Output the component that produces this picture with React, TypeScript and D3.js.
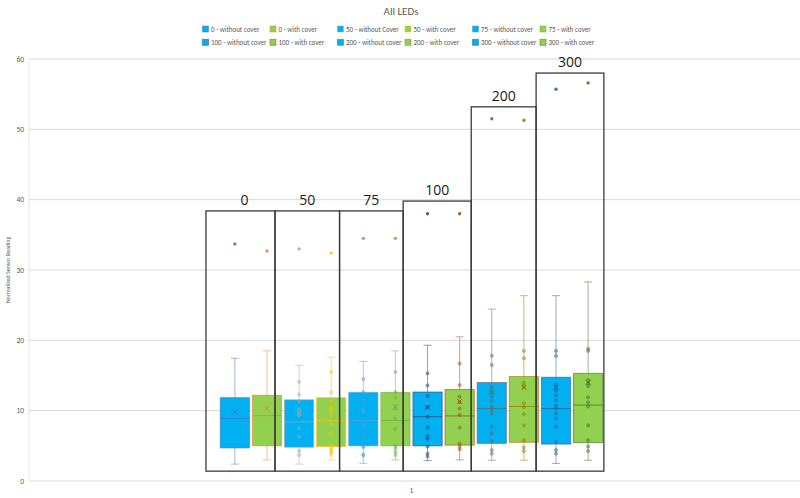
import React, { useRef, useEffect } from 'react';
import * as d3 from 'd3';

// one category on the x axis, twelve box series inside it
const categories = ['1'];

const seriesLabels = [
  '0 - without cover', '0 - with cover',
  '50 - without Cover', '50 - with cover',
  '75 - without cover', '75 - with cover',
  '100 - without cover', '100 - with cover',
  '200 - without cover', '200 - with cover',
  '300 - without cover', '300 - with cover',
];

const whiskerLow = [2.4, 3.0, 2.4, 3.0, 2.5, 3.0, 2.9, 3.0, 2.95, 2.95, 2.5, 2.95];
const q1 = [4.7, 5.0, 4.8, 4.9, 5.0, 5.0, 5.0, 5.1, 5.35, 5.5, 5.25, 5.45];
const medians = [8.9, 9.3, 8.4, 8.6, 8.6, 8.6, 9.15, 9.25, 10.3, 10.6, 10.3, 10.8];
const q3 = [11.85, 12.2, 11.55, 11.85, 12.6, 12.6, 12.65, 13.0, 14.0, 14.85, 14.75, 15.3];
const whiskerHigh = [17.45, 18.5, 16.45, 17.6, 17.0, 18.5, 19.3, 20.5, 24.45, 26.35, 26.35, 28.3];
const means = [9.8, 10.3, 9.6, 10.2, 10.0, 10.5, 10.5, 11.3, 12.6, 13.3, 13.3, 14.0];
const outliers = [33.7, 32.7, 33.0, 32.4, 34.5, 34.5, 38.0, 38.0, 51.5, 51.3, 55.7, 56.6];

const innerPoints: number[][] = [
  [],
  [],
  [14.1, 12.3, 11.3, 10.2, 9.7, 9.3, 7.5, 6.3, 4.3, 3.7],
  [15.5, 12.6, 11.3, 10.4, 10.1, 9.4, 8.1, 6.7, 5.1, 4.7, 4.4, 4.1, 3.8],
  [14.5, 12.6, 11.5, 10.1, 9.8, 8.0, 7.6, 6.5, 5.0, 4.8, 3.8, 3.6],
  [15.5, 12.6, 11.85, 10.7, 10.3, 8.9, 7.4, 5.0, 4.6, 4.1, 3.7],
  [15.3, 13.6, 12.1, 10.5, 9.15, 7.6, 6.4, 6.0, 4.9, 3.9, 3.5],
  [16.7, 13.65, 12.0, 11.2, 10.3, 9.4, 7.6, 5.3, 4.9, 4.5],
  [17.8, 16.5, 13.3, 12.65, 12.0, 11.4, 10.6, 10.2, 9.6, 7.7, 6.8, 5.6, 4.4, 3.9],
  [18.5, 17.45, 14.0, 13.6, 13.3, 11.05, 10.5, 9.5, 7.9, 5.8, 4.75, 4.25],
  [18.5, 17.8, 13.7, 13.2, 12.85, 12.2, 11.5, 10.75, 10.3, 9.6, 8.9, 7.7, 5.6, 4.4, 3.9],
  [18.8, 18.5, 14.35, 13.9, 13.5, 11.9, 11.2, 10.6, 7.9, 5.8, 4.9, 4.25],
];

const yTicks = [0, 10, 20, 30, 40, 50, 60];

// framed groups drawn over the boxes; edges are in series steps from the first box centre
const groupLabels = ['0', '50', '75', '100', '200', '300'];
const groupTops = [38.4, 38.4, 38.4, 39.8, 53.2, 58.0];
const groupEdges = [-0.9, 1.25, 3.26, 5.24, 7.36, 9.38, 11.49];
const groupBottom = 1.4;

const fillColors = ['#00B0F0', '#92D050'];
const lineColors = [
  '#4472C4', '#ED7D31', '#A5A5A5', '#FFC000', '#5B9BD5', '#70AD47',
  '#264478', '#9E480E', '#636363', '#997300', '#255E91', '#43682B',
];

const FONT = 'Calibri, Carlito, Lato, "Liberation Sans", sans-serif';
const LABEL_FONT = '"Open Sans", "Liberation Sans", sans-serif';

const App: React.FC = () => {
  const ref = useRef<SVGSVGElement>(null);

  useEffect(() => {
    const width = 800;
    const height = 498;
    const svg = d3.select(ref.current);
    svg.selectAll('*').remove();
    svg.attr('width', width).attr('height', height);

    svg.append('rect').attr('width', width).attr('height', height).attr('fill', '#fff');

    const left = 29;
    const right = 794;
    const top = 59;
    const bottom = 481;

    const y = d3.scaleLinear().domain([0, 60]).range([bottom, top]);
    const xCat = d3.scaleBand().domain(categories).range([left, right]).paddingInner(0).paddingOuter(0.5);
    const x = d3.scaleBand()
      .domain(seriesLabels)
      .range([xCat(categories[0])!, xCat(categories[0])! + xCat.bandwidth()])
      .paddingInner(0.09)
      .paddingOuter(0);
    const bw = x.bandwidth();
    const cx = (i: number) => x(seriesLabels[i])! + bw / 2;

    // gridlines
    svg.append('g')
      .selectAll('line')
      .data(yTicks)
      .enter()
      .append('line')
      .attr('x1', left)
      .attr('x2', 800)
      .attr('y1', d => y(d))
      .attr('y2', d => y(d))
      .attr('stroke', '#D9D9D9')
      .attr('stroke-width', 1);

    svg.append('line')
      .attr('x1', left).attr('x2', left)
      .attr('y1', top).attr('y2', bottom)
      .attr('stroke', '#E6E6E6');

    svg.append('g')
      .selectAll('text')
      .data(yTicks)
      .enter()
      .append('text')
      .attr('x', left - 5)
      .attr('y', d => y(d) + 2.5)
      .attr('text-anchor', 'end')
      .attr('font-family', FONT)
      .attr('font-size', 7.5)
      .attr('fill', '#595959')
      .text(d => d);

    svg.append('text')
      .attr('transform', `translate(10, ${(top + bottom) / 2}) rotate(-90)`)
      .attr('text-anchor', 'middle')
      .attr('font-family', FONT)
      .attr('font-size', 6)
      .attr('fill', '#595959')
      .text('Normalized Sensor Reading');

    svg.append('text')
      .attr('x', xCat(categories[0])! + xCat.bandwidth() / 2)
      .attr('y', 493)
      .attr('text-anchor', 'middle')
      .attr('font-family', FONT)
      .attr('font-size', 7.5)
      .attr('fill', '#595959')
      .text(categories[0]);

    // title
    svg.append('text')
      .attr('x', 401)
      .attr('y', 15)
      .attr('text-anchor', 'middle')
      .attr('font-family', FONT)
      .attr('font-size', 11)
      .attr('fill', '#595959')
      .text('All LEDs');

    // legend: two rows of six
    const legend = svg.append('g');
    seriesLabels.forEach((label, i) => {
      const col = i % 6;
      const row = Math.floor(i / 6);
      const lx = 203 + col * 67.5;
      const ly = 29.5 + row * 13.3;
      legend.append('rect')
        .attr('x', lx - 0.5)
        .attr('y', ly - 3.5)
        .attr('width', 6)
        .attr('height', 6)
        .attr('fill', fillColors[i % 2])
        .attr('stroke', lineColors[i])
        .attr('stroke-opacity', 0.6)
        .attr('stroke-width', 0.8);
      legend.append('text')
        .attr('x', lx + 8)
        .attr('y', ly + 2.2)
        .attr('font-family', FONT)
        .attr('font-size', 7)
        .attr('fill', '#595959')
        .text(label);
    });

    const boxes = svg.append('g')
      .selectAll('g')
      .data(seriesLabels.map((_, i) => i))
      .enter()
      .append('g');

    // whiskers with caps
    boxes.append('line')
      .attr('x1', i => cx(i)).attr('x2', i => cx(i))
      .attr('y1', i => y(whiskerLow[i])).attr('y2', i => y(whiskerHigh[i]))
      .attr('stroke', i => lineColors[i]).attr('stroke-opacity', 0.5).attr('stroke-width', 1);
    boxes.append('line')
      .attr('x1', i => cx(i) - 4).attr('x2', i => cx(i) + 4)
      .attr('y1', i => y(whiskerHigh[i])).attr('y2', i => y(whiskerHigh[i]))
      .attr('stroke', i => lineColors[i]).attr('stroke-opacity', 0.5).attr('stroke-width', 1);
    boxes.append('line')
      .attr('x1', i => cx(i) - 4).attr('x2', i => cx(i) + 4)
      .attr('y1', i => y(whiskerLow[i])).attr('y2', i => y(whiskerLow[i]))
      .attr('stroke', i => lineColors[i]).attr('stroke-opacity', 0.5).attr('stroke-width', 1);

    boxes.append('rect')
      .attr('x', i => x(seriesLabels[i])!)
      .attr('width', bw)
      .attr('y', i => y(q3[i]))
      .attr('height', i => y(q1[i]) - y(q3[i]))
      .attr('fill', i => fillColors[i % 2])
      .attr('stroke', i => lineColors[i])
      .attr('stroke-opacity', 0.6)
      .attr('stroke-width', 1);

    boxes.append('line')
      .attr('x1', i => x(seriesLabels[i])!).attr('x2', i => x(seriesLabels[i])! + bw)
      .attr('y1', i => y(medians[i])).attr('y2', i => y(medians[i]))
      .attr('stroke', i => lineColors[i]).attr('stroke-opacity', 0.7).attr('stroke-width', 1);

    // inner points
    boxes.each(function (i) {
      d3.select(this)
        .selectAll('circle.inner')
        .data(innerPoints[i])
        .enter()
        .append('circle')
        .attr('class', 'inner')
        .attr('cx', cx(i))
        .attr('cy', d => y(d))
        .attr('r', 1.6)
        .attr('fill', lineColors[i])
        .attr('fill-opacity', 0.4)
        .attr('stroke', lineColors[i])
        .attr('stroke-opacity', 0.65)
        .attr('stroke-width', 0.6);
    });

    // mean markers
    const xs = 2.6;
    boxes.append('path')
      .attr('d', i => {
        const mx = cx(i);
        const my = y(means[i]);
        return `M${mx - xs},${my - xs}L${mx + xs},${my + xs}M${mx - xs},${my + xs}L${mx + xs},${my - xs}`;
      })
      .attr('stroke', i => lineColors[i])
      .attr('stroke-opacity', 0.75)
      .attr('stroke-width', 1)
      .attr('fill', 'none');

    boxes.append('circle')
      .attr('cx', i => cx(i))
      .attr('cy', i => y(outliers[i]))
      .attr('r', 1.7)
      .attr('fill', i => lineColors[i])
      .attr('fill-opacity', 0.85);

    // framed groups with their labels
    const step = x.step();
    const gx = (u: number) => cx(0) + u * step;
    const frames = svg.append('g');
    groupLabels.forEach((label, k) => {
      const x0 = gx(groupEdges[k]);
      const x1 = gx(groupEdges[k + 1]);
      frames.append('rect')
        .attr('x', x0)
        .attr('y', y(groupTops[k]))
        .attr('width', x1 - x0)
        .attr('height', y(groupBottom) - y(groupTops[k]))
        .attr('fill', 'none')
        .attr('stroke', '#3A3A3A')
        .attr('stroke-width', 1.3);
      frames.append('text')
        .attr('x', (x0 + x1) / 2 + (k === 0 ? 4 : 0))
        .attr('y', y(groupTops[k]) - 6)
        .attr('text-anchor', 'middle')
        .attr('font-family', LABEL_FONT)
        .attr('font-size', 14)
        .attr('fill', '#1a1a1a')
        .text(label);
    });
  }, []);

  return <svg ref={ref} style={{ position: 'absolute', left: 0, top: 0, display: 'block' }}></svg>;
};

export default App;
